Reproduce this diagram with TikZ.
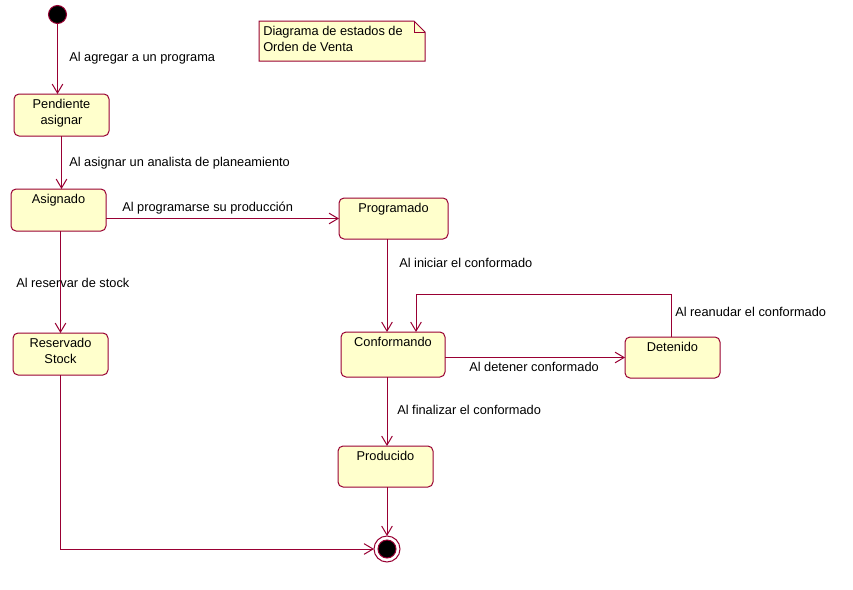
\documentclass[tikz,border=0pt]{standalone}
\usepackage{fontspec}
\setmainfont{Liberation Sans}
\usetikzlibrary{arrows.meta,calc}
\definecolor{rosered}{RGB}{153,0,51}
\definecolor{roseyel}{RGB}{255,255,204}
\begin{document}
\begin{tikzpicture}[x=0.75pt,y=-0.75pt,
  font=\fontsize{9.6}{12}\selectfont,
  state/.style={rectangle, draw=rosered, fill=roseyel, rounded corners=3.75pt,
    line width=0.75pt, inner sep=0pt, outer sep=0pt},
  stname/.style={anchor=north, yshift=-3.9pt, inner sep=0pt, align=center},
  trans/.style={draw=rosered, line width=0.75pt, -{Straight Barb[length=6.75pt,width=8pt]}},
  tlabel/.style={anchor=base west, inner sep=0pt},
]
\useasboundingbox (0,0) rectangle (853,589);
\fill[white] (0,0) rectangle (853,589);

% note
\draw[draw=rosered, fill=roseyel, line width=0.75pt]
  (259,21) -- (414,21) -- (425,32) -- (425,61) -- (259,61) -- cycle;
\draw[draw=rosered, line width=0.75pt] (414,21) -- (414,32) -- (425,32);
\node[tlabel] (n1) at (263,36) {Diagrama de estados de};
\node[tlabel] (n2) at (263,51) {Orden de Venta};

% start and end
\node[circle, fill=black, draw=rosered, line width=0.75pt, minimum size=18*0.75pt, inner sep=0pt, outer sep=0pt] (start) at (57.5,14.5) {};
\node[circle, draw=rosered, fill=white, line width=0.75pt, minimum size=26*0.75pt, inner sep=0pt, outer sep=0pt] (fin) at (387,549) {};
\filldraw[fill=black, draw=rosered, line width=0.75pt] (fin.center) circle[radius=6.75pt];

% states
\node[state, minimum width=95*0.75pt, minimum height=42*0.75pt,
  label={[stname]north:Pendiente\\asignar}] (pa) at (61.5,115) {};
\node[state, minimum width=95*0.75pt, minimum height=42*0.75pt,
  label={[stname]north:Asignado}] (as) at (58.5,210) {};
\node[state, minimum width=95*0.75pt, minimum height=42*0.75pt,
  label={[stname]north:Reservado\\Stock}] (rs) at (60.5,354) {};
\node[state, minimum width=109*0.75pt, minimum height=41*0.75pt,
  label={[stname]north:Programado}] (prog) at (393.5,218.5) {};
\node[state, minimum width=104*0.75pt, minimum height=45*0.75pt,
  label={[stname]north:Conformando}] (conf) at (393,354.5) {};
\node[state, minimum width=95*0.75pt, minimum height=41*0.75pt,
  label={[stname]north:Detenido}] (det) at (672.5,357.5) {};
\node[state, minimum width=95*0.75pt, minimum height=41*0.75pt,
  label={[stname]north:Producido}] (prod) at (385.5,466.5) {};

% transitions
\draw[trans] (start.south) -- (start.south |- pa.north);
\draw[trans] (pa.south) -- (pa.south |- as.north);
\draw[trans] (prog.west -| as.east) -- (prog.west);
\draw[trans] (rs.north |- as.south) -- (rs.north);
\draw[trans] (rs.south) -- (rs.south |- fin.west) -- (fin.west);
\draw[trans] (fin |- prog.south) -- (fin |- conf.north);
\draw[trans] (conf.east |- det.west) -- (det.west);
\draw[trans] ([xshift=-1.1pt]det.north) -- ++(0,-43) -| ($(conf.north)+(23,0)$);
\draw[trans] (fin |- conf.south) -- (fin |- prod.north);
\draw[trans] (fin |- prod.south) -- (fin.north);

% transition labels
\node[tlabel] (l1) at (69,61) {Al agregar a un programa};
\node[tlabel] (l2) at (69,166) {Al asignar un analista de planeamiento};
\node[tlabel] (l3) at (122,211) {Al programarse su producción};
\node[tlabel] (l4) at (16,287) {Al reservar de stock};
\node[tlabel] (l5) at (399,267) {Al iniciar el conformado};
\node[tlabel] (l6) at (675,316) {Al reanudar el conformado};
\node[tlabel] (l7) at (469,371) {Al detener conformado};
\node[tlabel] (l8) at (397,414) {Al finalizar el conformado};
\end{tikzpicture}
\end{document}
